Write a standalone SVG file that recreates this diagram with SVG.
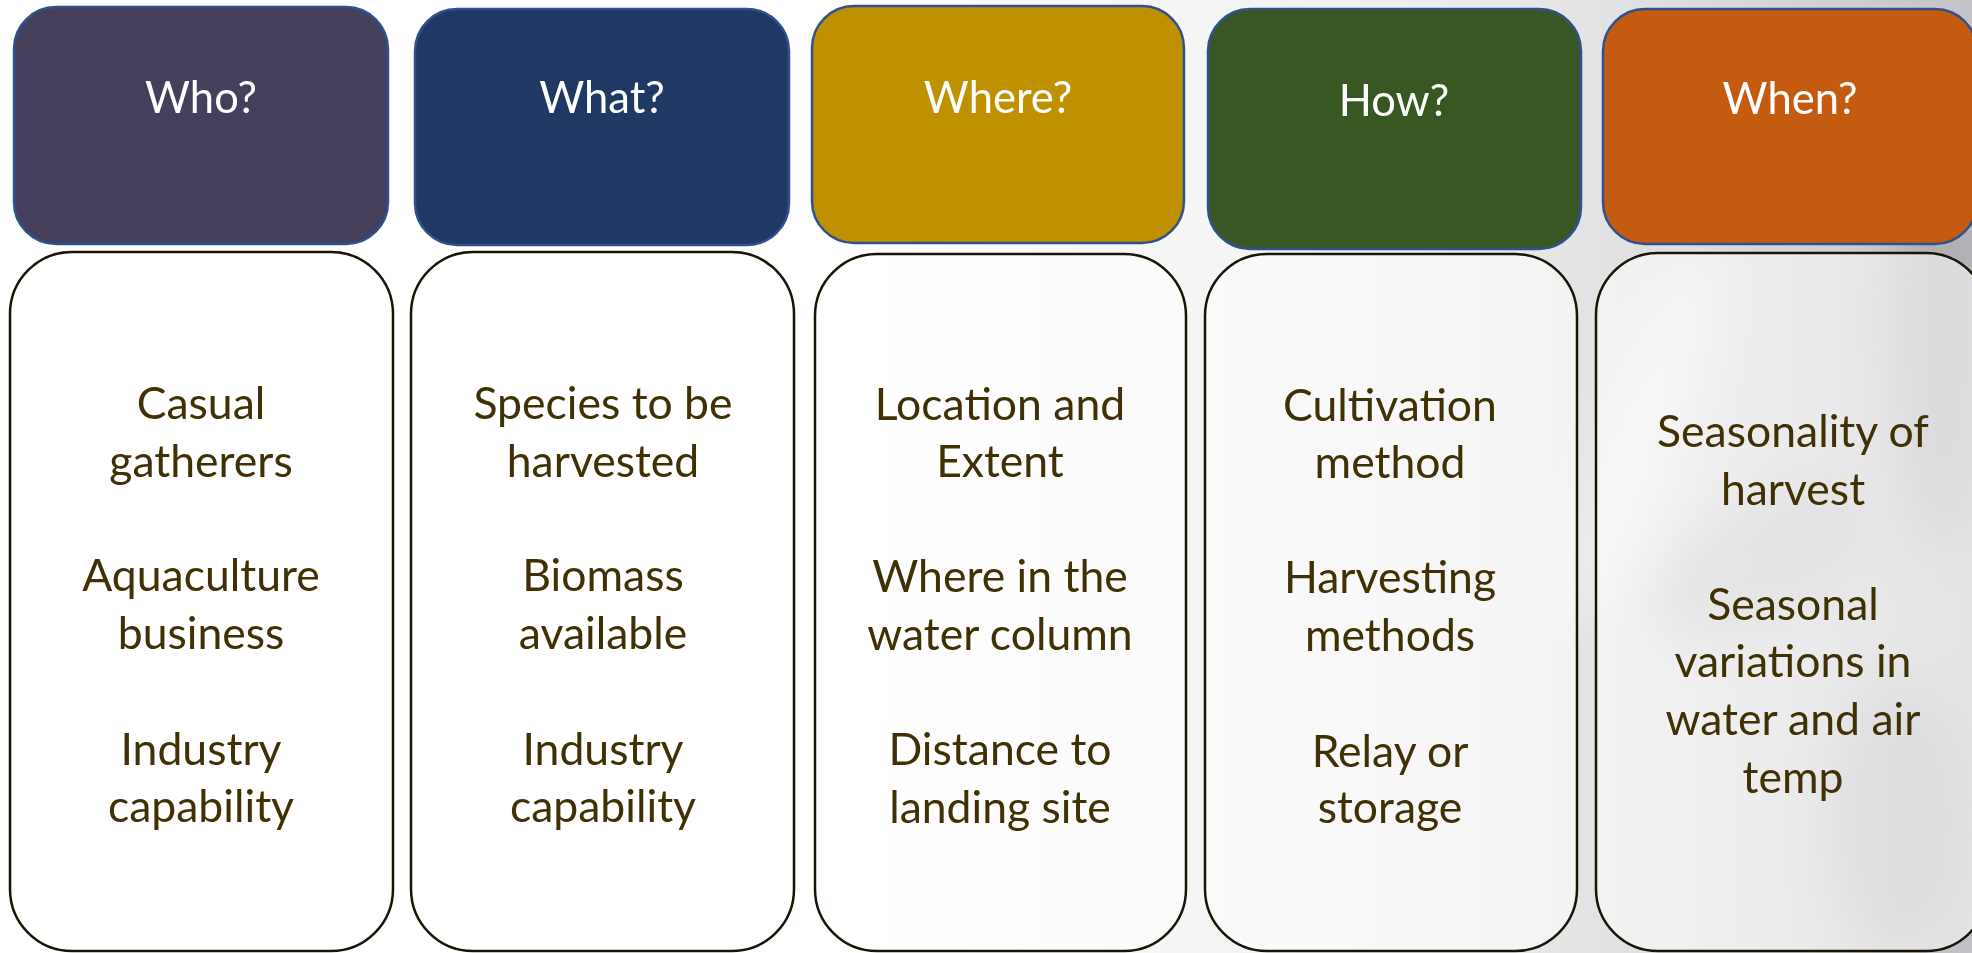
<svg xmlns="http://www.w3.org/2000/svg" width="1972" height="953" viewBox="0 0 1972 953">
<defs>
<style>
.hdr{stroke:#2f528f;stroke-width:2.5}
.hdrt{font-family:Lato,"Open Sans",sans-serif;font-size:43.5px;fill:#ffffff;text-anchor:middle}
.body{fill:#ffffff;fill-opacity:0.55;stroke:#1a1405;stroke-width:2.5}
.bt{font-family:Lato,"Open Sans",sans-serif;font-size:44.5px;fill:#3f3104;text-anchor:middle}
</style>
<linearGradient id="bg" x1="0" y1="0" x2="1" y2="0">
<stop offset="0" stop-color="#ffffff"/>
<stop offset="0.42" stop-color="#ffffff"/>
<stop offset="0.7" stop-color="#f0f0f0"/>
<stop offset="0.85" stop-color="#dedee0"/>
<stop offset="1" stop-color="#c4c3c7"/>
</linearGradient>
<filter id="blur" x="-50%" y="-50%" width="200%" height="200%"><feGaussianBlur stdDeviation="25"/></filter>
</defs>
<rect width="1972" height="953" fill="url(#bg)"/>
<g id="photo" filter="url(#blur)" opacity="0.4">
<ellipse cx="1940" cy="320" rx="50" ry="230" fill="#8f8d92"/>
<ellipse cx="1760" cy="560" rx="120" ry="60" fill="#a9a8ac" transform="rotate(-30 1760 560)"/>
<ellipse cx="1900" cy="820" rx="70" ry="140" fill="#9a999d"/>
<ellipse cx="1640" cy="440" rx="40" ry="200" fill="#ffffff" transform="rotate(20 1640 440)"/>
</g>
<g id="connectors"></g>
<g id="who">
<rect class="hdr" x="14" y="7" width="374" height="237" rx="42" fill="#463f5c"/>
<text class="hdrt" x="201" y="113">Who?</text>
<rect class="body" x="10" y="252" width="383" height="699" rx="62"/>
<text class="bt" x="201" y="419">Casual</text>
<text class="bt" x="201" y="477">gatherers</text>
<text class="bt" x="201" y="591">Aquaculture</text>
<text class="bt" x="201" y="649">business</text>
<text class="bt" x="201" y="765">Industry</text>
<text class="bt" x="201" y="822">capability</text>
</g>
<g id="what">
<rect class="hdr" x="415" y="9" width="374" height="236" rx="42" fill="#203864"/>
<text class="hdrt" x="602" y="113">What?</text>
<rect class="body" x="411" y="252" width="383" height="699" rx="62"/>
<text class="bt" x="603" y="419">Species to be</text>
<text class="bt" x="603" y="477">harvested</text>
<text class="bt" x="603" y="591">Biomass</text>
<text class="bt" x="603" y="649">available</text>
<text class="bt" x="603" y="765">Industry</text>
<text class="bt" x="603" y="822">capability</text>
</g>
<g id="where">
<rect class="hdr" x="812" y="6" width="372" height="237" rx="42" fill="#bf9000"/>
<text class="hdrt" x="998" y="113">Where?</text>
<rect class="body" x="815" y="254" width="371" height="697" rx="62"/>
<text class="bt" x="1000" y="420">Location and</text>
<text class="bt" x="1000" y="477">Extent</text>
<text class="bt" x="1000" y="592">Where in the</text>
<text class="bt" x="1000" y="650">water column</text>
<text class="bt" x="1000" y="765">Distance to</text>
<text class="bt" x="1000" y="823">landing site</text>
</g>
<g id="how">
<rect class="hdr" x="1208" y="9" width="373" height="240" rx="42" fill="#385723"/>
<text class="hdrt" x="1394" y="116">How?</text>
<rect class="body" x="1205" y="254" width="372" height="697" rx="62"/>
<text class="bt" x="1390" y="421">Cultivation</text>
<text class="bt" x="1390" y="478">method</text>
<text class="bt" x="1390" y="593">Harvesting</text>
<text class="bt" x="1390" y="651">methods</text>
<text class="bt" x="1390" y="767">Relay or</text>
<text class="bt" x="1390" y="823">storage</text>
</g>
<g id="when">
<rect class="hdr" x="1603" y="9" width="374" height="235" rx="42" fill="#c55a11"/>
<text class="hdrt" x="1790" y="114">When?</text>
<rect class="body" x="1596" y="253" width="392" height="698" rx="62"/>
<text class="bt" x="1793" y="447">Seasonality of</text>
<text class="bt" x="1793" y="505">harvest</text>
<text class="bt" x="1793" y="620">Seasonal</text>
<text class="bt" x="1793" y="677">variations in</text>
<text class="bt" x="1793" y="735">water and air</text>
<text class="bt" x="1793" y="793">temp</text>
</g>
</svg>
